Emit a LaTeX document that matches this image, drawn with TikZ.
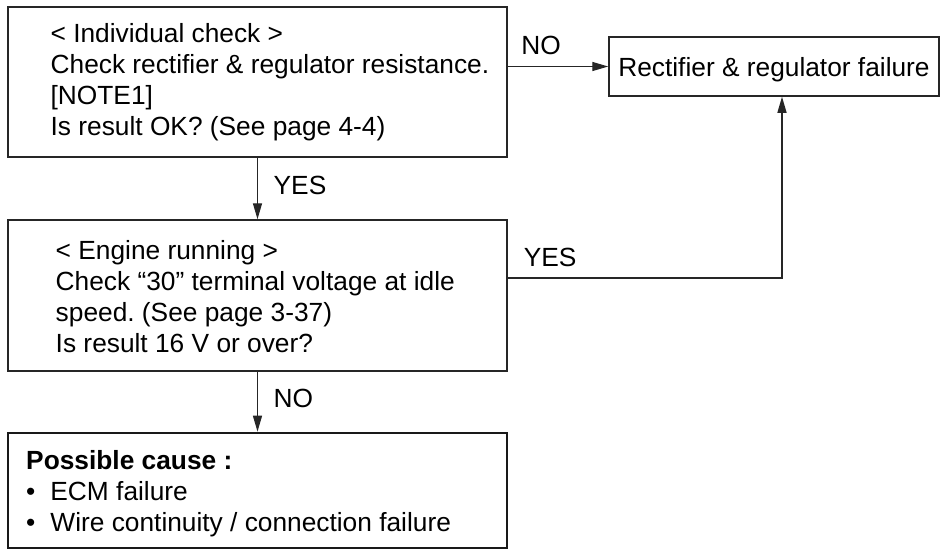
\documentclass[tikz,border=0pt]{standalone}
\usepackage{fontspec}
\setmainfont{Liberation Sans}
\usetikzlibrary{positioning, arrows.meta, calc}
\frenchspacing

\begin{document}
\begin{tikzpicture}[
    font=\fontsize{26.3}{31}\selectfont,
    >={Triangle[length=16pt, width=9pt]},
    check/.style={draw=black!85, line width=1.5pt, minimum width=499pt, inner sep=0pt},
    result/.style={draw=black!85, line width=1.5pt, minimum width=330pt,
                   minimum height=59pt, inner sep=0pt, text depth=0pt},
    cause/.style={draw=black!90, line width=2.7pt, minimum width=499pt,
                  minimum height=115pt, inner sep=0pt},
    txt/.style={align=left, inner sep=0pt, anchor=north west},
    tag/.style={inner sep=0pt, anchor=base west},
    arr/.style={->, line width=1.4pt, draw=black!85},
]

% ── individual check ─────────────────────────────────────────────────────────
\node[check, minimum height=150pt] (indiv) {};
\useasboundingbox ([shift={(-7.25pt,6.25pt)}]indiv.north west) rectangle ++(940pt,-550pt);
\node[txt] (indiv-txt) at ([shift={(43.2pt,-17.2pt)}]indiv.north west)
    {< Individual check >\\
     Check rectifier \& regulator resistance.\\
     {[NOTE1]}\\
     Is result OK? (See page 4-4)};

% ── failure result (right) ───────────────────────────────────────────────────
\node[result, below right=30pt and 100.5pt of indiv.north east] (fail)
    {Rectifier \& regulator failure};

% ── engine running check ─────────────────────────────────────────────────────
\node[check, minimum height=151pt, below=61.5pt of indiv] (engine) {};
\node[txt] (engine-txt) at ([shift={(48.3pt,-21.2pt)}]engine.north west)
    {< Engine running >\\
     Check “30” terminal voltage at idle\\
     speed. (See page 3-37)\\
     Is result 16 V or over?};

% ── possible cause ───────────────────────────────────────────────────────────
\node[cause, below=59.9pt of engine] (cause) {};
\node[txt] (cause-txt) at ([shift={(19.4pt,-18.4pt)}]cause.north west)
    {\textbf{Possible cause :}\\
     •\hspace{15pt}ECM failure\\
     •\hspace{15pt}Wire continuity / connection failure};

% ── edges ────────────────────────────────────────────────────────────────────
\draw[arr] (indiv.east |- fail.west) --
    node[tag, pos=0, xshift=13pt, yshift=12pt] (no-fail) {NO} (fail.west);
\draw[arr] (indiv) --
    node[tag, pos=0, xshift=15.5pt, yshift=-36.4pt] (yes-engine) {YES} (engine);
\draw[arr] ([yshift=17.5pt]engine.east) -|
    node[tag, pos=0, xshift=15.4pt, yshift=12pt] (yes-fail) {YES} ([xshift=8pt]fail.south);
\draw[arr] (engine) --
    node[tag, pos=0, xshift=15.5pt, yshift=-35.4pt] (no-cause) {NO} (cause);

\end{tikzpicture}
\end{document}
